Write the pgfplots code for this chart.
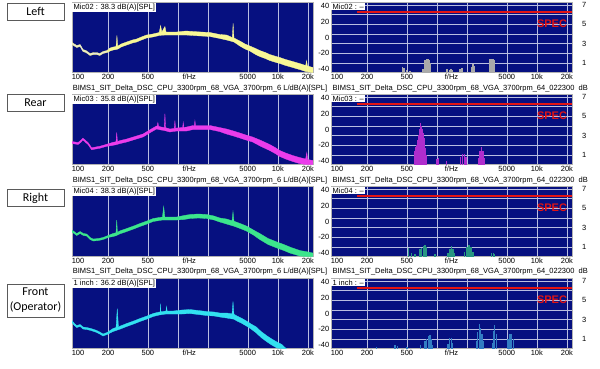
\documentclass[border=0pt]{standalone}
\usepackage{pgfplots}
\pgfplotsset{compat=1.18}
\usepackage{pgfplotstable}
\usepackage{fontspec}
\setmainfont{Liberation Sans}
\newfontfamily\carlito{Carlito}
\definecolor{navy}{RGB}{6,16,128}
\definecolor{gridc}{RGB}{185,190,225}
\definecolor{cyel}{RGB}{248,248,150}
\definecolor{cmag}{RGB}{235,60,235}
\definecolor{cgrn}{RGB}{60,230,140}
\definecolor{ccya}{RGB}{50,225,240}
\definecolor{bgray}{RGB}{170,170,170}
\definecolor{bmag}{RGB}{175,45,205}
\definecolor{bgrn}{RGB}{40,150,130}
\definecolor{bblu}{RGB}{50,125,195}
\definecolor{specred}{RGB}{225,20,20}
\definecolor{boxc}{RGB}{90,90,90}

\pgfplotstableread{
f y
87 30
97 27
105 28
112 23
120 22
132 19
143 20
154 20
165 19
178 21
195 22
209 24.5
225 25.5
240 26
245 37
250 26.4
270 28.5
307 30.5
350 32.5
386 33.5
430 35.5
486 37.5
560 38.5
650 40
671 47
690 40.5
741 46
760 40.5
800 40.5
970 40.5
1200 41.5
1420 41
1700 40.5
2090 40
2630 38
3070 37.5
3500 35
3570 49
3640 34.5
4170 31.5
4700 28.5
5250 26.5
6000 24
6600 22
7500 20
8300 18
9300 16.5
10470 15
12000 13
14100 11
16500 9
19000 7
19400 12
19800 6.5
22500 5
22500 0
19800 0.8
19000 1
16500 3
14100 5
12000 7
10470 9
9300 10.5
8300 12
7500 14
6600 16
6000 18
5250 21.5
4700 23.5
4170 26.5
3640 30.5
3500 31
3070 32.5
2630 34
2090 36
1700 36.5
1420 37
1200 37.5
970 37.5
800 37.5
760 37.5
690 37.3
650 37
560 35.5
486 34.5
430 32.5
386 30.5
350 29.5
307 27.5
270 25.5
250 23.4
240 23
225 22.5
209 21.5
195 20
178 19
165 17
154 18
143 18
132 17
120 20
112 21
105 26
97 25
87 28
}\tA

\pgfplotstableread{
f y
87 23
100 22
106 24
112 26.5
119 24
126 22
132 19
137 16.7
150 17.5
166 18.3
190 20
224 22.2
240 22.8
244 32
248 23
265 24
307 25.5
370 28
447 30.5
520 34.5
610 38.5
620 38.5
630 42
640 38.2
680 37.5
730 37
741 51
752 36.9
830 35.5
900 36
920 36.2
933 44
946 36.3
970 36.5
1115 37
1130 42
1145 37
1220 37.5
1420 39
1460 39
1480 44
1500 39
1700 39
2090 39
2600 37
3070 35.5
3600 33.5
4170 31.5
4800 29.5
5600 27.5
6800 24
8300 20
9400 17
10470 14
12000 11.5
14100 9
16500 7
19000 5.5
19500 12
19900 5
22500 4
22500 0
19000 0
16500 1
14100 3
12000 5.5
10470 8
9400 11
8300 14
6800 18
5600 22.5
4800 24.5
4170 26.5
3600 28.5
3070 30.5
2600 33
2090 35
1700 35
1420 35
1220 33.5
970 33.5
900 33
830 32.5
730 34
680 34.5
610 35.5
520 31.5
447 27.5
370 25
307 22.5
265 21
240 19.8
224 19.2
190 18
166 16.3
150 15.5
137 14.7
132 17
126 20
119 22
112 24.5
106 22
100 20
87 21
}\tB

\pgfplotstableread{
f y
87 26.5
97 23
105 25
113 23
122 22.5
132 19
142 17.5
160 18
178 19
200 21
224 23
240 23.8
244 36.5
248 24
260 25.5
307 28
360 30.5
417 33
490 35.5
565 38
700 39.5
720 50
740 39.5
850 39.5
970 39.5
1150 41
1320 42
1600 42.5
1940 42
2300 40.5
2630 38.5
3070 37.5
3480 35.7
3560 45
3640 35.3
4200 33
4850 30.5
5700 26.5
6600 23
8000 18
9800 14.5
11500 12
13200 9.5
16600 6
19000 5
22500 3.5
22500 0
19000 0
16600 0.5
13200 3.5
11500 6
9800 8.5
8000 12
6600 17
5700 21.5
4850 25.5
4200 28
3640 30.3
3070 32.5
2630 34.5
2300 36.5
1940 38
1600 38.5
1320 38
1150 37
970 36.5
740 36.5
700 36.5
565 35
490 32.5
417 30
360 27.5
307 25
260 22.5
240 20.8
224 20
200 19
178 17
160 16
142 15.5
132 17
122 20.5
113 21
105 23
97 21
87 24.5
}\tC

\pgfplotstableread{
f y
87 28
92 25
97 23
105 24
112 21.5
122 21
135 20
154 18
165 16.5
178 14.5
195 16
224 20
240 21
247 40
254 21.4
265 22.5
307 25
360 27.5
417 30
490 32.5
565 35
650 36.5
665 36.6
670 45
675 36.7
760 37.5
770 42
780 37.5
900 37.5
1100 38.5
1320 39
1600 38
1940 37
2300 36.5
2630 35.5
3070 35.5
3480 34.7
3560 47
3640 34.3
3900 32.5
4300 30.5
4850 27.5
5400 24.5
6100 21.5
6800 17
7700 13
8700 9.5
9800 6.5
11000 4
11800 1
12200 0
11000 0
9800 0.5
8700 3.5
7700 7
6800 11
6100 15.5
5400 19.5
4850 22.5
4300 25.5
3900 27.5
3640 29.3
3070 30.5
2630 31.5
2300 32.5
1940 33
1600 34
1320 35
1100 34.5
900 34.5
760 34.5
650 33.5
565 32
490 29.5
417 27
360 24.5
307 22
265 19.5
240 18
224 17
195 14
178 12.5
165 14.5
154 16
135 18
122 19
112 19.5
105 22
97 21
92 23
87 26
}\tD

\pgfplotstableread{
f u
454 7
468 6
497 3
537 2
724 4
760 16
780 18
800 17
820 18
845 16
860 12
1260 4
1330 3
1380 4
1440 3
1700 5
1780 6
2220 7
2290 11
2360 8
3400 18
3550 17
3700 17
3800 16
}\bA

\pgfplotstableread{
f u
600 18
615 22
630 25
645 31
660 38
672 46
685 53
697 50
710 46
725 40
740 33.5
755 27
770 21
790 12
1000 7
1030 9
1250 5
1720 9.5
1800 14
1880 14
1960 10
2600 9
2700 18
2800 22.6
2900 18
3000 9
}\bB

\pgfplotstableread{
f u
517 11
558 5
603 3
676 9.5
700 11
730 13
760 14.6
787 12
955 3
1290 5
1350 10
1400 13
1450 10
1510 4
1900 6
2000 12
2100 14.6
2200 12
2290 6
3500 4
3700 4
3800 3
}\bC

\pgfplotstableread{
f u
250 2
380 4.5
400 3
500 2
690 4
760 10
790 12
820 15.7
850 17.4
880 12
910 4
1290 6
1340 13.5
1390 14
1440 7
2470 10
2560 21.6
2650 31.5
2740 27
2830 19
2900 10
3630 7
3700 23
3800 30
3930 19
5130 12
5300 19
5500 19
5800 12
}\bD

\tikzset{
  micbox/.style={fill=white, anchor=north west, inner xsep=1.5pt, inner ysep=1pt,
    font=\fontsize{7.5}{8}\selectfont, text=black},
  spec/.style={text=specred, font=\bfseries\fontsize{11}{12}\selectfont},
  lbl/.style={draw=boxc, line width=0.5pt, minimum width=57pt, minimum height=17pt,
    inner sep=1pt, font=\carlito\fontsize{12}{15}\selectfont, align=center},
  head/.style={anchor=west, inner sep=0pt, font=\fontsize{7.5}{8}\selectfont},
}

% axis openers (plain option lists, no pgfplots styles)
\newcommand{\LeftAxis}[1]{\begin{axis}[scale only axis, width=241pt, height=70pt,
    anchor=north west, at={(72pt,-#1pt)},
    xmode=log, xmin=87, xmax=22500, ymin=0, ymax=70,
    axis background/.style={fill=navy},
    axis line style={gray!60, line width=0.4pt},
    major tick length=0pt, minor tick length=0pt,
    xtick={100,200,500,1000,2000,5000,10000,20000},
    xticklabels={100,200,500,,,5000,10k,20k},
    minor xtick={200,500,1000,2000,5000,10000,20000},
    ytick=\empty, minor ytick={10,20,30,40,50,60},
    xmajorgrids=false, ymajorgrids=false, xminorgrids=true, yminorgrids=true,
    minor grid style={gridc, line width=0.5pt},
    extra x ticks={1300}, extra x tick labels={f/Hz},
    tick label style={font=\fontsize{7.5}{8}\selectfont, inner sep=1.5pt}]}
\newcommand{\RightAxisA}[1]{\begin{axis}[scale only axis, width=241pt, height=70pt,
    anchor=north west, at={(331pt,-#1pt)},
    xmode=log, xmin=87, xmax=22500, ymin=0, ymax=7.25,
    axis background/.style={fill=navy},
    axis line style={gray!60, line width=0.4pt},
    major tick length=0pt, minor tick length=0pt,
    xtick={100,200,500,1000,2000,5000,10000,20000}, xticklabels={},
    minor xtick={200,500,1000,2000,5000,10000,20000},
    ytick={1,2,3,4,5,6,7}, yticklabels={1,,3,,5,,7},
    yticklabel pos=right,
    xmajorgrids=false, xminorgrids=true, ymajorgrids=true,
    minor grid style={gridc, line width=0.5pt},
    major grid style={gridc, line width=0.5pt},
    tick label style={font=\fontsize{7.5}{8}\selectfont, inner sep=1.5pt},
    yticklabel style={xshift=8.5pt}]}
\newcommand{\RightAxisB}[1]{\begin{axis}[scale only axis, width=241pt, height=70pt,
    anchor=north west, at={(331pt,-#1pt)},
    xmode=log, xmin=87, xmax=22500, ymin=0, ymax=90,
    axis line style={gray!60, line width=0.4pt},
    major tick length=0pt, minor tick length=0pt,
    xtick={100,200,500,1000,2000,5000,10000,20000},
    xticklabels={100,200,500,,,5000,10k,20k},
    ytick={5,25,45,65,85}, yticklabels={-40,-20,0,20,40},
    yticklabel pos=left,
    extra x ticks={1400}, extra x tick labels={f/Hz},
    tick label style={font=\fontsize{7.5}{8}\selectfont, inner sep=1.5pt}]}

\newcommand{\lefthead}{BIMS1\_SIT\_Delta\_DSC\_CPU\_3300rpm\_68\_VGA\_3700rpm\_6 L/dB(A)[SPL]}
\newcommand{\righthead}{BIMS1\_SIT\_Delta\_DSC\_CPU\_3300rpm\_68\_VGA\_3700rpm\_64\_022300 \ dB}

\begin{document}
\begin{tikzpicture}
\useasboundingbox (0pt,0pt) rectangle (600pt,-368pt);

\node[lbl] at (35.5pt,-11.5pt) {Left};
\node[lbl] at (35.5pt,-102.5pt) {Rear};
\node[lbl] at (35.5pt,-198pt) {Right};
\node[lbl, minimum height=33pt] at (35.5pt,-300.5pt) {Front\\(Operator)};

\node[head] at (72.7pt,-88.5pt) {\lefthead};
\node[head] at (332.5pt,-88.5pt) {\righthead};
\node[head] at (72.7pt,-180.5pt) {\lefthead};
\node[head] at (332.5pt,-180.5pt) {\righthead};
\node[head] at (72.7pt,-271.5pt) {\lefthead};
\node[head] at (332.5pt,-271.5pt) {\righthead};

% ---------- Row 1 ----------
\LeftAxis{2.5}
\addplot[fill=cyel, draw=cyel, line width=0.3pt] table[x=f,y=y]{\tA};
\addplot[white!80!gray, line width=0.7pt] coordinates {(87,29)(97,26)(105,27)(112,22)(120,21)(132,18)(143,19)(154,19)(165,18)(178,20)(195,21)};
\node[micbox] at (rel axis cs:0,1) {Mic02 : 38.3 dB(A)[SPL]};
\end{axis}
\RightAxisA{2.5}
\addplot[draw=none] coordinates {(1000,1)};
\end{axis}
\RightAxisB{2.5}
\addplot[ycomb, bgray, line width=1.3pt] table[x=f,y=u]{\bA};
\addplot[specred, line width=1.4pt] coordinates {(158,78) (22500,78)};
\node[micbox] at (rel axis cs:0,1) {Mic02 : --};
\node[spec] at (rel axis cs:0.917,0.7) {SPEC};
\end{axis}

% ---------- Row 2 ----------
\LeftAxis{94.5}
\addplot[fill=cmag, draw=cmag, line width=0.3pt] table[x=f,y=y]{\tB};
\node[micbox] at (rel axis cs:0,1) {Mic03 : 35.8 dB(A)[SPL]};
\end{axis}
\RightAxisA{94.5}
\addplot[draw=none] coordinates {(1000,1)};
\end{axis}
\RightAxisB{94.5}
\addplot[ycomb, bmag, line width=1.3pt] table[x=f,y=u]{\bB};
\addplot[specred, line width=1.4pt] coordinates {(158,78) (22500,78)};
\node[micbox] at (rel axis cs:0,1) {Mic03 : --};
\node[spec] at (rel axis cs:0.917,0.7) {SPEC};
\end{axis}

% ---------- Row 3 ----------
\LeftAxis{186.5}
\addplot[fill=cgrn, draw=cgrn, line width=0.3pt] table[x=f,y=y]{\tC};
\node[micbox] at (rel axis cs:0,1) {Mic04 : 38.3 dB(A)[SPL]};
\end{axis}
\RightAxisA{186.5}
\addplot[draw=none] coordinates {(1000,1)};
\end{axis}
\RightAxisB{186.5}
\addplot[ycomb, bgrn, line width=1.3pt] table[x=f,y=u]{\bC};
\addplot[specred, line width=1.4pt] coordinates {(158,78) (22500,78)};
\node[micbox] at (rel axis cs:0,1) {Mic04 : --};
\node[spec] at (rel axis cs:0.917,0.7) {SPEC};
\end{axis}

% ---------- Row 4 ----------
\LeftAxis{278.5}
\addplot[fill=ccya, draw=ccya, line width=0.3pt] table[x=f,y=y]{\tD};
\node[micbox] at (rel axis cs:0,1) {1 inch : 36.2 dB(A)[SPL]};
\end{axis}
\RightAxisA{278.5}
\addplot[draw=none] coordinates {(1000,1)};
\end{axis}
\RightAxisB{278.5}
\addplot[ycomb, bblu, line width=1.3pt] table[x=f,y=u]{\bD};
\addplot[specred, line width=1.4pt] coordinates {(158,78) (22500,78)};
\node[micbox] at (rel axis cs:0,1) {1 inch : --};
\node[spec] at (rel axis cs:0.917,0.7) {SPEC};
\end{axis}
\end{tikzpicture}
\end{document}
